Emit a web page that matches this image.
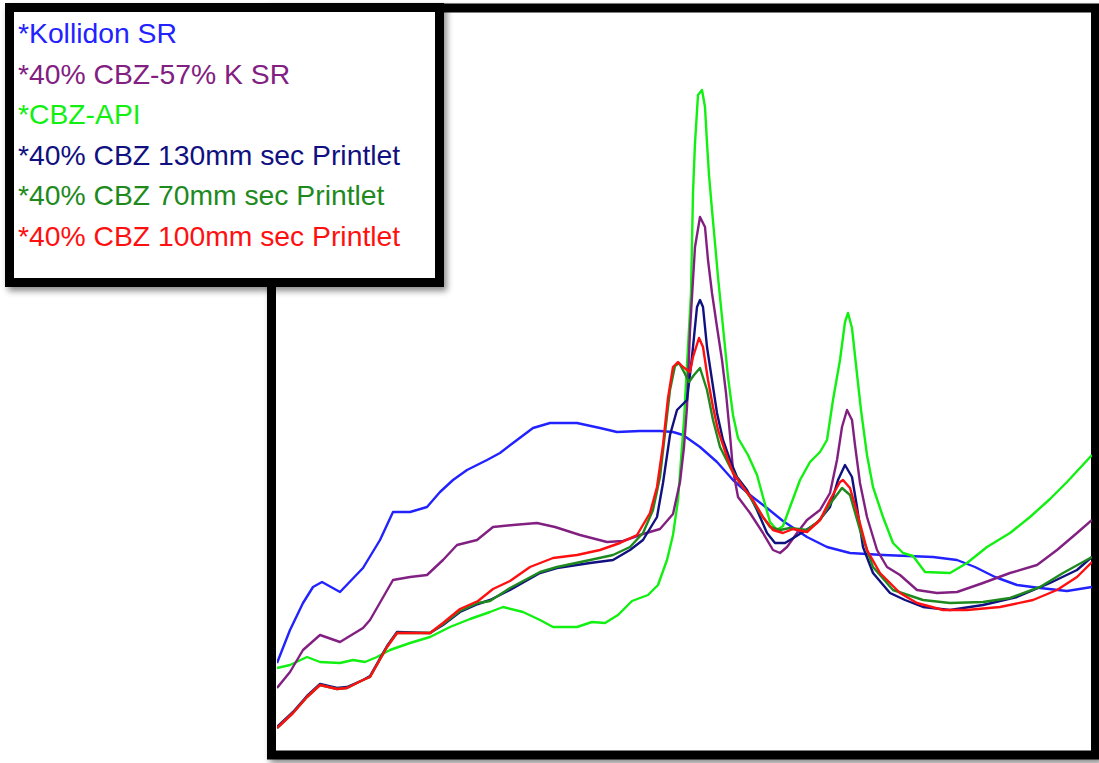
<!DOCTYPE html>
<html>
<head>
<meta charset="utf-8">
<script src="https://cdn.jsdelivr.net/npm/d3@7"></script>
<style>
  body { margin: 0; background: #fff; }
  svg { display: block; }
</style>
</head>
<body>
<div id="chart"></div>
<script>
// series names, in legend order
let seriesNames = [
  '*Kollidon SR',
  '*40% CBZ-57% K SR',
  '*CBZ-API',
  '*40% CBZ 130mm sec Printlet',
  '*40% CBZ 70mm sec Printlet',
  '*40% CBZ 100mm sec Printlet'
]

// [position, intensity] pairs (arbitrary units)
let kollidon = [
  [0, 17], [2.6, 23.6], [5.2, 29], [7.2, 32.2], [9, 33.2], [12.6, 31.2], [17.2, 36],
  [20.6, 41.6], [23.2, 47.2], [26.6, 47.2], [30, 48.2], [32.6, 51.2], [35.2, 53.6],
  [38, 55.6], [42, 57.6], [44.6, 59], [47.2, 61], [51.2, 64], [54.6, 65], [60, 65],
  [64.6, 64], [68, 63.2], [72.6, 63.4], [76.6, 63.4], [79.2, 63.2], [81.2, 62.6],
  [84.6, 60.2], [88, 57.2], [91.2, 53.6], [94.6, 50.6], [98, 48], [101.2, 45.4],
  [106, 42.2], [110, 40.2], [114.6, 39], [121.2, 38.6], [131.2, 38.2], [136, 37.6],
  [139.6, 36.2], [143.6, 34.2], [148, 32.6], [152.6, 32], [158, 31.4], [163, 32.2]
]

let cbzKsr = [
  [0, 12], [2.6, 15.2], [5.2, 19.6], [8.6, 22.6], [12.6, 21.2], [17.2, 24], [18.6, 25.6],
  [23.2, 33.6], [26.6, 34.2], [30, 34.6], [33.2, 37.6], [36, 40.6], [40, 41.6],
  [43.2, 44.2], [47.2, 44.6], [52, 45], [55.6, 44.2], [60.6, 42.6], [66, 41.2],
  [69.2, 41.4], [73.2, 42.8], [76.6, 43.8], [79.2, 46.8], [80.6, 53.2], [81.4, 60.2],
  [82, 68.2], [82.6, 83.6], [83.2, 93.6], [83.6, 100.2], [84.6, 106.2], [85.6, 104.2],
  [86.2, 97.6], [87, 91], [88, 84.2], [89, 77.6], [89.8, 71], [90.6, 62.6], [91.2, 55.6],
  [92.2, 50.2], [94.6, 47], [97.2, 43], [99.2, 39.6], [100.6, 39], [102, 40.2],
  [104, 43], [106, 45.6], [108.6, 47.6], [110.6, 51], [112, 57.6], [113, 64.2],
  [114, 67.6], [115, 65.6], [115.6, 60.6], [116.6, 53], [118, 46.2], [120, 39.6],
  [122, 36.2], [124.6, 34.6], [128, 31.6], [132, 31], [136, 31.2], [141.2, 33],
  [146.6, 35], [152, 36.6], [156, 39.6], [160, 43], [163, 45.6]
]

let cbzApi = [
  [0, 16], [2.6, 16.6], [6, 18.2], [8.6, 17.2], [12.6, 17], [15.2, 17.6], [17.6, 17.2],
  [20, 18.2], [22.6, 19.6], [26.6, 21], [30.6, 22.2], [34.6, 24.2], [38.6, 25.8],
  [42.6, 27.2], [45.2, 28.2], [49.2, 27.2], [52.6, 25.6], [55.2, 24.2], [60, 24.2],
  [63, 25.2], [65.6, 25], [68.2, 26.6], [71, 29.4], [74.2, 30.6], [76.2, 32.6],
  [78, 37.6], [79.2, 42.6], [80.2, 49.6], [80.8, 57.6], [81.4, 65.6], [82.2, 80.2],
  [82.8, 91], [83.2, 111], [83.6, 121], [84.2, 130.6], [85, 131.6], [85.6, 128.2],
  [86, 121], [86.4, 114.6], [87, 107.6], [87.6, 101], [88.2, 94.2], [89.2, 84.2],
  [90.2, 74.2], [91.2, 66.6], [92.2, 62], [94.2, 58.6], [96, 54.6], [97.2, 50.2],
  [98.6, 45.2], [100, 43.6], [101.2, 44.4], [102.6, 48.2], [104.6, 53.6], [106.6, 57.2],
  [108.6, 59.2], [110, 61.6], [111.2, 69.6], [112.6, 77.6], [113.6, 85.2], [114.2, 87],
  [115, 84], [115.8, 76.6], [116.8, 67.6], [118, 58.6], [119.2, 52.2], [121.2, 46.2],
  [123.2, 41], [125.2, 39], [127.2, 38.4], [129.6, 35.2], [134.6, 35], [138, 37],
  [142, 40.2], [146.6, 43], [150.6, 46.2], [154.6, 49.8], [158, 53.2], [163, 58.6]
]

let printlet130 = [
  [0, 4.2], [3.2, 7.2], [6, 10.4], [8.6, 12.8], [12, 12], [14, 12.2], [17.2, 13.6],
  [18.6, 14.4], [22, 20.4], [24, 23.2], [30.6, 23], [33.2, 24.6], [36.6, 27.2],
  [40.2, 28.8], [42.6, 29.6], [46.6, 31.6], [52.6, 35], [56, 36], [62.6, 37],
  [67.2, 37.6], [70.6, 39.6], [73.2, 41.6], [76, 46.2], [77.2, 53], [78.6, 62.6],
  [80, 67.6], [82, 69.6], [83, 78.2], [84, 88.2], [84.6, 89.6], [85.2, 88.2], [86, 80.2],
  [87, 73.6], [88, 67], [89.2, 61.6], [90.6, 57.6], [92, 54.2], [94, 51.6], [96, 47.6],
  [98, 43], [99.6, 41], [101.6, 41], [103.6, 42.2], [108, 45], [110.6, 48.2],
  [112.2, 53.6], [113.6, 56.6], [115, 54.2], [116, 48.2], [117.2, 40.2], [119.2, 35],
  [122.6, 31], [125.6, 29.6], [129.2, 28.2], [134.6, 27.6], [141.2, 28.6], [148, 30.2],
  [154.6, 33], [160, 35.6], [163, 38.2]
]

let printlet70 = [
  [0, 4], [3.2, 7], [6, 10.2], [8.6, 12.6], [12, 11.8], [14, 12], [17.2, 13.6],
  [18.6, 14.2], [22, 20.2], [24, 23], [30.6, 23], [33.2, 24.8], [36.6, 27.4],
  [40.2, 29], [42.6, 29.4], [46.6, 32], [52.6, 35.2], [56, 36.2], [62.6, 37.6],
  [67.2, 38.6], [70.6, 40.2], [73.2, 43], [75.2, 47.6], [76.6, 54.2], [77.6, 63],
  [78.6, 71.6], [79.6, 76.4], [80.4, 77], [81.4, 75.2], [82.4, 73.2], [83.4, 74.6],
  [84.6, 76], [86, 71.6], [87.2, 65.6], [88.6, 60.2], [90.6, 56.2], [92.6, 53],
  [94.6, 50.2], [96.6, 47], [98.6, 44.2], [100.6, 43.6], [102.6, 44], [106, 43.6],
  [108.6, 45.6], [110.6, 48.8], [113, 52], [114.6, 50.6], [116.6, 43.6], [119.2, 36.2],
  [123.2, 31.6], [129.2, 29.6], [134.6, 29], [141.2, 29.2], [146.6, 30], [152.6, 32.2],
  [157.2, 35], [163, 38.2]
]

let printlet100 = [
  [0, 4], [3.2, 7], [6, 10.2], [8.6, 12.6], [12, 11.8], [14, 12], [17.2, 13.6],
  [18.6, 14.2], [22, 20.2], [24, 23], [30.6, 23], [33.2, 25], [36.6, 27.8], [40.2, 29.4],
  [43.2, 31.8], [46.6, 33.4], [50.6, 36.2], [55.2, 38], [60, 38.6], [64.6, 39.6],
  [68.6, 41], [72, 42.6], [74.6, 47], [76, 52.2], [77.2, 60.6], [78.2, 70], [79.2, 76.2],
  [80.2, 77.2], [81.2, 76.2], [82.6, 75.2], [83.2, 78.2], [84.4, 82], [85.2, 80.2],
  [86.2, 73.6], [87.2, 68.2], [88.2, 63.6], [90, 58.2], [91.2, 55], [93.2, 52.2],
  [95.2, 49.6], [97.2, 46.2], [99.2, 43.6], [101.2, 43], [103.2, 43.8], [106, 43.2],
  [108.6, 45.6], [110.6, 49.6], [112.6, 53.2], [113.2, 53.6], [114.6, 52], [116, 47.2],
  [118, 39.6], [120.6, 35], [124.6, 31], [128, 29], [133.2, 27.6], [138, 27.6],
  [144.6, 28.2], [151.2, 29.6], [156, 31.6], [160, 34.2], [163, 37.2]
]

let seriesColors = ['#2222ff', '#822082', '#11f011', '#101080', '#1e8a1e', '#ff1010']
let seriesValues = [kollidon, cbzKsr, cbzApi, printlet130, printlet70, printlet100]

// drawing order: which series goes on top
let drawOrder = [0, 2, 1, 3, 4, 5]

var width = 1099
var height = 763

var svg = d3
  .select('#chart')
  .append('svg')
  .attr('width', width)
  .attr('height', height)

var defs = svg.append('defs')

var shadow = defs
  .append('filter')
  .attr('id', 'shadow')
  .attr('x', '-10%')
  .attr('y', '-10%')
  .attr('width', '130%')
  .attr('height', '130%')
shadow
  .append('feDropShadow')
  .attr('dx', 3)
  .attr('dy', 4)
  .attr('stdDeviation', 3)
  .attr('flood-color', '#000')
  .attr('flood-opacity', 0.45)

// plot frame, inner area
var plot = { left: 277, right: 1092, top: 12, bottom: 748 }

defs
  .append('clipPath')
  .attr('id', 'plot-clip')
  .append('rect')
  .attr('x', plot.left)
  .attr('y', plot.top)
  .attr('width', plot.right - plot.left)
  .attr('height', plot.bottom - plot.top)

let xPositionScale = d3
  .scaleLinear()
  .domain([0, 163])
  .range([plot.left, plot.right])

let yPositionScale = d3
  .scaleLinear()
  .domain([0, 147.2])
  .range([plot.bottom, plot.top])

var line = d3
  .line()
  .x(d => xPositionScale(d[0]))
  .y(d => yPositionScale(d[1]))

/* Frame round the plot */
svg
  .append('rect')
  .attr('x', 271.5)
  .attr('y', 8)
  .attr('width', 824)
  .attr('height', 747)
  .attr('fill', '#fff')
  .attr('stroke', '#000')
  .attr('stroke-width', 9)
  .attr('filter', 'url(#shadow)')

/* Traces */
svg
  .append('g')
  .attr('clip-path', 'url(#plot-clip)')
  .selectAll('path')
  .data(drawOrder)
  .enter()
  .append('path')
  .attr('d', i => line(seriesValues[i]))
  .attr('fill', 'none')
  .attr('stroke', i => seriesColors[i])
  .attr('stroke-width', 2.4)
  .attr('stroke-linejoin', 'round')

/* Legend box */
var legend = svg.append('g').attr('class', 'legend')

legend
  .append('rect')
  .attr('x', 9.5)
  .attr('y', 7.5)
  .attr('width', 430)
  .attr('height', 275)
  .attr('fill', '#fff')
  .attr('stroke', '#000')
  .attr('stroke-width', 9)
  .attr('filter', 'url(#shadow)')

legend
  .selectAll('text')
  .data(seriesNames)
  .enter()
  .append('text')
  .attr('x', 18)
  .attr('y', (d, i) => 43 + i * 40.6)
  .attr('fill', (d, i) => seriesColors[i])
  .attr('font-family', 'Liberation Sans, Arial, sans-serif')
  .attr('font-size', 28.3)
  .text(d => d)
</script>
</body>
</html>
